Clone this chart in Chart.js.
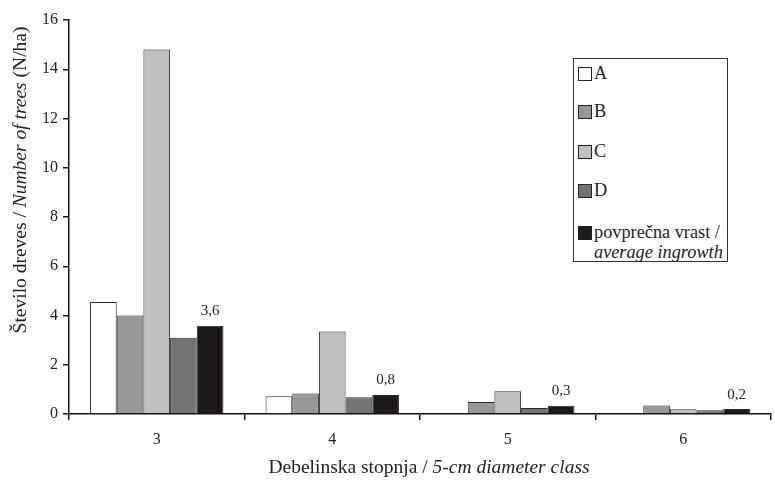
<!DOCTYPE html>
<html lang="en">
<head>
    <meta charset="UTF-8">
    <title>Število dreves</title>
    <script src="https://cdn.jsdelivr.net/npm/chart.js"></script>
    <style>
        body { margin: 0; background: #fff; }
        .wrap { position: relative; width: 775px; height: 481px; }
        .legend {
            position: absolute; left: 573px; top: 58px; width: 155px; height: 204px;
            border: 1px solid #333; box-sizing: border-box; background: #fff;
            font-family: 'Liberation Serif', serif; font-size: 18.3px; color: #222;
        }
        .legend .item { position: absolute; left: 4px; display: flex; align-items: flex-start; line-height: 20px; white-space: nowrap; }
        .legend .sw { width: 12px; height: 12px; border: 1px solid #222; margin: 4px 2px 0 0; flex: none; }
    </style>
</head>
<body>
<div class="wrap">
    <canvas id="chart" width="775" height="481"></canvas>
    <div class="legend" id="legend"></div>
</div>
<script>
    // data
    const classes = ['3', '4', '5', '6'];
    const seriesNames = ['A', 'B', 'C', 'D', 'povprečna vrast'];
    const valuesA = [4.55, 0.72, 0, 0];
    const valuesB = [4.0, 0.83, 0.49, 0.35];
    const valuesC = [14.8, 3.35, 0.92, 0.19];
    const valuesD = [3.1, 0.68, 0.24, 0.15];
    const valuesAvg = [3.58, 0.77, 0.33, 0.2];
    const avgLabels = ['3,6', '0,8', '0,3', '0,2'];
    const yTicks = [0, 2, 4, 6, 8, 10, 12, 14, 16];

    const colors = ['#ffffff', '#989898', '#c0c0c0', '#747474', '#1e1a18'];
    const allValues = [valuesA, valuesB, valuesC, valuesD, valuesAvg];

    const serif = "'Liberation Serif', 'Times New Roman', serif";

    // legend
    const legend = document.getElementById('legend');
    const legendTops = [4, 42, 82, 121, 163];
    seriesNames.forEach((name, i) => {
        const d = document.createElement('div');
        d.className = 'item';
        d.style.top = legendTops[i] + 'px';
        let label = name;
        if (i === 4) label = 'povprečna vrast /<br><i>average ingrowth</i>';
        d.innerHTML = '<span class="sw" style="background:' + colors[i] + '"></span><span>' + label + '</span>';
        legend.appendChild(d);
    });

    // value labels above the average bars + axis titles with mixed styles
    const extras = {
        id: 'extras',
        afterDatasetsDraw(chart) {
            const ctx = chart.ctx;
            const meta = chart.getDatasetMeta(4);
            ctx.save();
            ctx.fillStyle = '#222';
            ctx.font = '15px ' + serif;
            ctx.textAlign = 'center';
            ctx.textBaseline = 'bottom';
            meta.data.forEach((bar, i) => {
                ctx.fillText(avgLabels[i], bar.x, bar.y - 7);
            });

            // x title
            ctx.textBaseline = 'alphabetic';
            ctx.textAlign = 'left';
            const size = '19.5px ';
            const p1 = 'Debelinska stopnja / ', p2 = '5-cm diameter class';
            ctx.font = size + serif;
            const w1 = ctx.measureText(p1).width;
            ctx.font = 'italic ' + size + serif;
            const w2 = ctx.measureText(p2).width;
            let x = 429 - (w1 + w2) / 2;
            ctx.font = size + serif;
            ctx.fillText(p1, x, 473);
            ctx.font = 'italic ' + size + serif;
            ctx.fillText(p2, x + w1, 473);

            // y title
            ctx.translate(26, 180);
            ctx.rotate(-Math.PI / 2);
            const q1 = 'Število dreves / ', q2 = 'Number of trees', q3 = ' (N/ha)';
            ctx.font = size + serif;
            const v1 = ctx.measureText(q1).width, v3 = ctx.measureText(q3).width;
            ctx.font = 'italic ' + size + serif;
            const v2 = ctx.measureText(q2).width;
            x = -(v1 + v2 + v3) / 2;
            ctx.font = size + serif;
            ctx.fillText(q1, x, 0);
            ctx.font = 'italic ' + size + serif;
            ctx.fillText(q2, x + v1, 0);
            ctx.font = size + serif;
            ctx.fillText(q3, x + v1 + v2, 0);
            ctx.restore();
        }
    };

    new Chart(document.getElementById('chart'), {
        type: 'bar',
        data: {
            labels: classes,
            datasets: seriesNames.map((name, i) => ({
                label: name,
                data: allValues[i],
                backgroundColor: colors[i],
                borderColor: '#2a2a2a',
                borderWidth: 1,
                categoryPercentage: 0.76,
                barPercentage: 1.0
            }))
        },
        options: {
            responsive: false,
            animation: false,
            layout: { padding: { top: 20, right: 4, left: 0, bottom: 0 } },
            plugins: { legend: { display: false }, tooltip: { enabled: false } },
            scales: {
                x: {
                    afterFit(scale) { scale.height = 67; },
                    grid: { offset: true, drawOnChartArea: false, drawTicks: true, tickLength: 6, color: '#111', lineWidth: 1.5 },
                    border: { color: '#111', width: 1.5 },
                    ticks: { color: '#222', font: { family: serif, size: 16 }, padding: 10 }
                },
                y: {
                    min: 0, max: 16,
                    afterFit(scale) { scale.width = 69; },
                    afterBuildTicks(scale) { scale.ticks = yTicks.map(v => ({ value: v })); },
                    grid: { drawOnChartArea: false, drawTicks: true, tickLength: 6, color: '#111', lineWidth: 1.5 },
                    border: { color: '#111', width: 1.5 },
                    ticks: { color: '#222', font: { family: serif, size: 16 }, padding: 5 }
                }
            }
        },
        plugins: [extras]
    });
</script>
</body>
</html>
